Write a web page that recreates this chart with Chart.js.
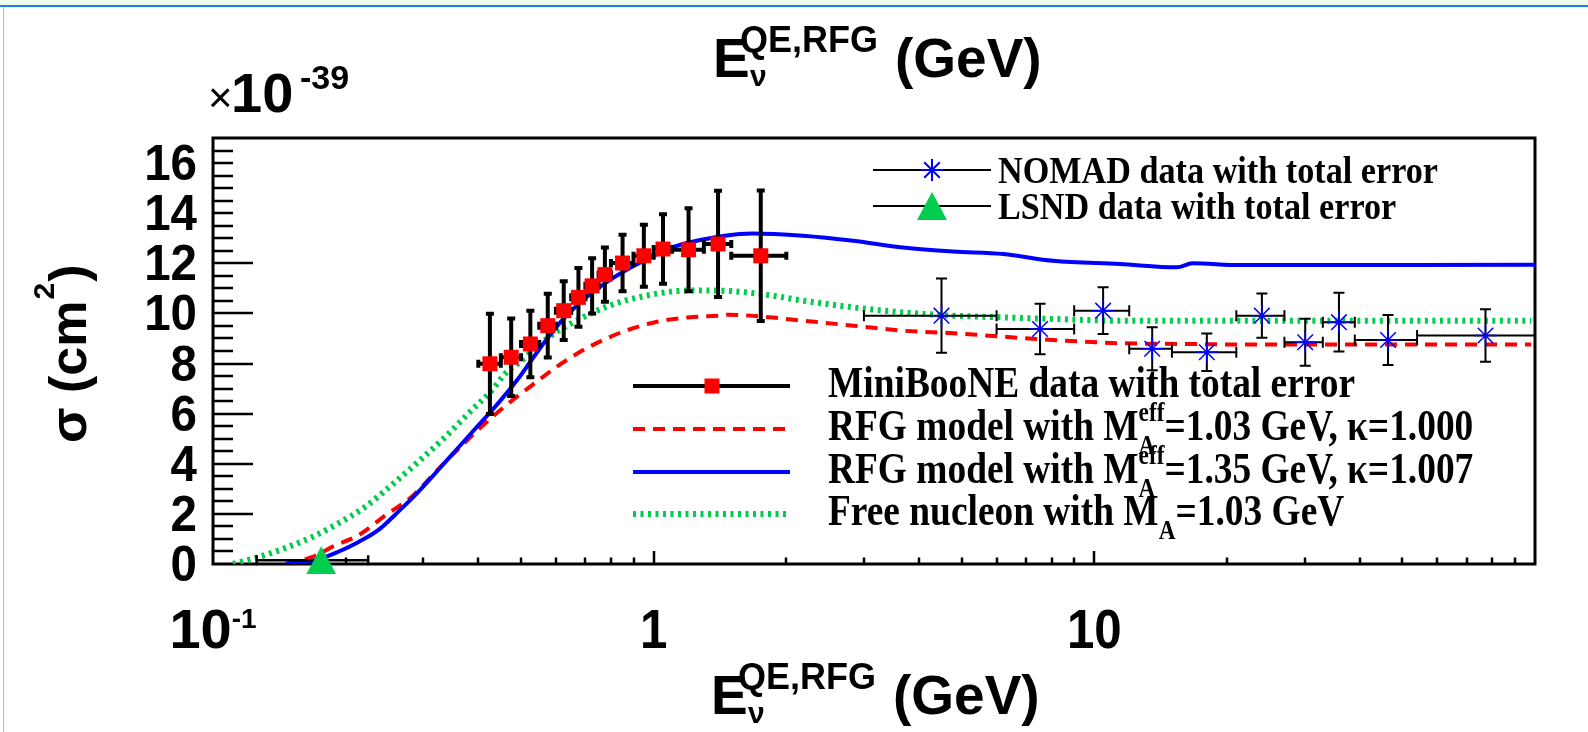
<!DOCTYPE html>
<html>
<head>
<meta charset="utf-8">
<script src="https://cdn.jsdelivr.net/npm/chart.js@4.4.1/dist/chart.umd.min.js"></script>
<style>
    html, body { margin: 0; padding: 0; background: #ffffff; }
    #wrap { position: relative; width: 1588px; height: 732px; overflow: hidden; background: #ffffff; }
    #band { position: absolute; left: 0; top: 0; width: 1588px; height: 5px; background: #f0fcf0; border-bottom: 2px solid #1e80e6; }
    #leftLine { position: absolute; left: 3px; top: 7px; width: 1px; height: 725px; background: #8cc4f2; }
    canvas { position: absolute; left: 0; top: 0; }
</style>
</head>
<body>
<div id="wrap">
    <canvas id="xsec" width="1588" height="732"></canvas>
    <div id="band"></div>
    <div id="leftLine"></div>
</div>
<script>
// ---- data (sigma in units of 1e-39 cm^2, energy in GeV) ----

// MiniBooNE
const mbE     = [0.425, 0.475, 0.525, 0.575, 0.625, 0.675, 0.725, 0.775, 0.85, 0.95, 1.05, 1.2, 1.4, 1.75];
const mbLo    = [0.40, 0.45, 0.50, 0.55, 0.60, 0.65, 0.70, 0.75, 0.80, 0.90, 1.00, 1.10, 1.30, 1.50];
const mbHi    = [0.45, 0.50, 0.55, 0.60, 0.65, 0.70, 0.75, 0.80, 0.90, 1.00, 1.10, 1.30, 1.50, 2.00];
const mbSigma = [7.99, 8.25, 8.78, 9.51, 10.11, 10.64, 11.10, 11.55, 12.01, 12.30, 12.57, 12.54, 12.77, 12.30];
const mbErr   = [2.00, 1.55, 1.33, 1.27, 1.17, 1.17, 1.10, 1.08, 1.13, 1.24, 1.39, 1.66, 2.12, 2.60];

// NOMAD
const nomadE     = [4.50, 7.53, 10.47, 13.53, 18.0, 24.0, 30.1, 35.9, 46.4, 77.2];
const nomadLo    = [3.0, 6.0, 9.0, 12.0, 15.0, 21.0, 27.0, 33.0, 39.0, 54.0];
const nomadHi    = [6.0, 9.0, 12.0, 15.0, 21.0, 27.0, 33.0, 39.0, 54.0, 100.0];
const nomadSigma = [9.91, 9.38, 10.11, 8.59, 8.45, 9.91, 8.85, 9.65, 8.94, 9.12];
const nomadErr   = [1.48, 1.01, 0.93, 0.86, 0.75, 0.88, 0.94, 1.17, 1.00, 1.05];

// LSND
const lsndE     = [0.176];
const lsndLo    = [0.1256];
const lsndHi    = [0.225];
const lsndSigma = [0.15];
const lsndErr   = [0.0];

// RFG model, M_A = 1.03 GeV, kappa = 1.000 (red dashed)
const rfg103E = [0.146, 0.159, 0.172, 0.186, 0.214, 0.246, 0.282, 0.325, 0.373, 0.429, 0.493, 0.547, 0.60, 0.65,
                 0.711, 0.846, 1.007, 1.198, 1.40, 1.48, 1.74, 2.18, 2.84, 3.68, 4.78, 6.21, 8.07, 11.43, 16.2, 21.4, 98.0];
const rfg103S = [0.0, 0.15, 0.35, 0.68, 1.15, 1.94, 2.67, 3.80, 4.85, 5.85, 6.72, 7.32, 7.85, 8.25,
                 8.65, 9.25, 9.65, 9.84, 9.91, 9.95, 9.88, 9.71, 9.51, 9.31, 9.21, 9.07, 8.94, 8.81, 8.78, 8.76, 8.76];

// RFG model, M_A = 1.35 GeV, kappa = 1.007 (blue solid)
const rfg135E = [0.146, 0.171, 0.192, 0.214, 0.237, 0.263, 0.292, 0.324, 0.36, 0.40, 0.444, 0.493, 0.524, 0.557,
                 0.618, 0.687, 0.775, 0.861, 0.95, 1.099, 1.45, 1.68, 2.18, 2.84, 3.68, 4.78, 6.21, 8.07, 11.43, 15.4, 16.7, 21.4, 100.0];
const rfg135S = [0.0, 0.15, 0.48, 0.88, 1.35, 2.08, 2.87, 3.74, 4.64, 5.53, 6.42, 7.40, 8.05, 8.70,
                 9.70, 10.50, 11.20, 11.70, 12.10, 12.63, 13.10, 13.19, 13.10, 12.90, 12.63, 12.47, 12.37, 12.10, 11.97, 11.84, 12.00, 11.93, 11.94];

// Free nucleon, M_A = 1.03 GeV (green dotted)
const freeE = [0.111, 0.127, 0.146, 0.168, 0.192, 0.221, 0.254, 0.292, 0.336, 0.386, 0.429, 0.46, 0.50, 0.55, 0.60, 0.65,
               0.775, 0.923, 1.198, 1.40, 1.74, 2.18, 2.84, 3.68, 4.78, 6.21, 8.07, 11.43, 21.4, 98.0];
const freeS = [0.0, 0.28, 0.64, 1.08, 1.61, 2.27, 3.14, 4.07, 5.06, 6.13, 6.92, 7.59, 8.10, 8.75, 9.25, 9.60,
               10.24, 10.64, 10.91, 10.91, 10.78, 10.51, 10.24, 10.04, 9.91, 9.84, 9.78, 9.71, 9.71, 9.71];

// axis ticks
const yLabelValues = [0, 2, 4, 6, 8, 10, 12, 14, 16];
const yLongTicks   = [2, 4, 6, 8, 10, 12];
const yMinorTicks  = [0.5, 1, 1.5, 2.5, 3, 3.5, 4.5, 5, 5.5, 6.5, 7, 7.5, 8.5, 9, 9.5, 10.5, 11, 11.5,
                      12.5, 13, 13.5, 14, 14.5, 15, 15.5, 16, 16.5];
const xMajorTicks  = [1, 10];
const xMinorTicks  = [0.2, 0.3, 0.4, 0.5, 0.6, 0.7, 0.8, 0.9, 2, 3, 4, 5, 6, 7, 8, 9, 20, 30, 40, 50, 60, 70, 80, 90];

const GREEN = '#00cc4e';
const SANS = '"Liberation Sans", Arial, Helvetica, sans-serif';
const SERIF = '"Liberation Serif", "Times New Roman", serif';

function pts(xs, ys) {
    return xs.map((v, i) => ({ x: v, y: ys[i] }));
}

// triangle marker (ROOT style: centred on its bounding box)
function makeTriangle(w, h, color) {
    const c = document.createElement('canvas');
    c.width = w; c.height = h;
    const g = c.getContext('2d');
    g.fillStyle = color;
    g.beginPath();
    g.moveTo(w / 2, 0);
    g.lineTo(w, h);
    g.lineTo(0, h);
    g.closePath();
    g.fill();
    return c;
}
const triMarker = makeTriangle(30, 28, GREEN);

const errorSets = {
    mb:    { xs: mbE, ys: mbSigma, lo: mbLo, hi: mbHi, err: mbErr, lw: 4, cap: 4 },
    nomad: { xs: nomadE, ys: nomadSigma, lo: nomadLo, hi: nomadHi, err: nomadErr, lw: 2, cap: 5.5 },
    lsnd:  { xs: lsndE, ys: lsndSigma, lo: lsndLo, hi: lsndHi, err: lsndErr, lw: 2.5, cap: 5 }
};

function drawErrors(chart, set) {
    const ctx = chart.ctx, xs = chart.scales.x, ys = chart.scales.y;
    ctx.save();
    ctx.strokeStyle = '#000';
    ctx.lineWidth = set.lw;
    ctx.beginPath();
    set.xs.forEach((e, i) => {
        const px = xs.getPixelForValue(e);
        const py = ys.getPixelForValue(set.ys[i]);
        const pl = xs.getPixelForValue(set.lo[i]);
        const ph = xs.getPixelForValue(set.hi[i]);
        ctx.moveTo(pl, py); ctx.lineTo(ph, py);
        ctx.moveTo(pl, py - set.cap); ctx.lineTo(pl, py + set.cap);
        ctx.moveTo(ph, py - set.cap); ctx.lineTo(ph, py + set.cap);
        if (set.err[i] > 0) {
            const pt = ys.getPixelForValue(set.ys[i] + set.err[i]);
            const pb = ys.getPixelForValue(set.ys[i] - set.err[i]);
            ctx.moveTo(px, pt); ctx.lineTo(px, pb);
            ctx.moveTo(px - set.cap, pt); ctx.lineTo(px + set.cap, pt);
            ctx.moveTo(px - set.cap, pb); ctx.lineTo(px + set.cap, pb);
        }
    });
    ctx.stroke();
    ctx.restore();
}

// E_nu^{QE,RFG} (GeV)
function drawEnergyTitle(ctx, x, base) {
    ctx.fillStyle = '#000';
    ctx.textAlign = 'left';
    ctx.textBaseline = 'alphabetic';
    ctx.font = 'bold 55px ' + SANS;
    ctx.fillText('E', x, base);
    ctx.font = 'bold 36px ' + SANS;
    ctx.fillText('QE,RFG', x + 27, base - 25);
    ctx.font = 'bold 30px ' + SANS;
    ctx.fillText('\u03bd', x + 37, base + 9);
    ctx.font = 'bold 55px ' + SANS;
    ctx.fillText('(GeV)', x + 182, base);
}

// text drawn narrower than the font (sx < 1)
function squeezed(ctx, text, x, y, sx, align) {
    ctx.save();
    ctx.translate(x, y);
    ctx.scale(sx, 1);
    ctx.textAlign = align;
    ctx.fillText(text, 0, 0);
    ctx.restore();
}

// text with optional sub/superscripts, compressed horizontally by sx
function richText(ctx, parts, x, y, size, sx) {
    ctx.save();
    ctx.translate(x, y);
    ctx.scale(sx, 1);
    ctx.fillStyle = '#000';
    ctx.textAlign = 'left';
    ctx.textBaseline = 'alphabetic';
    let cx = 0;
    parts.forEach(p => {
        if (typeof p === 'string') {
            ctx.font = 'bold ' + size + 'px ' + SERIF;
            ctx.fillText(p, cx, 0);
            cx += ctx.measureText(p).width;
        } else {
            ctx.font = 'bold ' + Math.round(size * 0.62) + 'px ' + SERIF;
            let w = 0;
            if (p.sup) {
                ctx.fillText(p.sup, cx, -size * 0.42);
                w = Math.max(w, ctx.measureText(p.sup).width);
            }
            if (p.sub) {
                ctx.fillText(p.sub, cx, size * 0.32);
                w = Math.max(w, ctx.measureText(p.sub).width);
            }
            cx += w;
        }
    });
    ctx.restore();
}

function measure(ctx, text, font) {
    ctx.font = font;
    return ctx.measureText(text).width;
}

const rootPlugin = {
    id: 'rootStyle',
    beforeDatasetsDraw(chart) {
        const ctx = chart.ctx, a = chart.chartArea;
        const xs = chart.scales.x, ys = chart.scales.y;
        ctx.save();
        ctx.strokeStyle = '#000';
        ctx.lineWidth = 2.5;
        ctx.beginPath();
        yMinorTicks.forEach(v => {
            const p = Math.round(ys.getPixelForValue(v));
            ctx.moveTo(a.left, p); ctx.lineTo(a.left + 20, p);
        });
        yLongTicks.forEach(v => {
            const p = Math.round(ys.getPixelForValue(v));
            ctx.moveTo(a.left, p); ctx.lineTo(a.left + 40, p);
        });
        xMinorTicks.forEach(v => {
            const p = Math.round(xs.getPixelForValue(v));
            ctx.moveTo(p, a.bottom); ctx.lineTo(p, a.bottom - 6.5);
        });
        xMajorTicks.forEach(v => {
            const p = Math.round(xs.getPixelForValue(v));
            ctx.moveTo(p, a.bottom); ctx.lineTo(p, a.bottom - 13);
        });
        ctx.stroke();
        ctx.lineWidth = 3;
        ctx.strokeRect(a.left, a.top, a.right - a.left, a.bottom - a.top);

        // y tick labels
        ctx.fillStyle = '#000';
        ctx.textBaseline = 'alphabetic';
        ctx.font = 'bold 50px ' + SANS;
        yLabelValues.forEach(v => {
            squeezed(ctx, String(v), 197, ys.getPixelForValue(v) + 17, 0.95, 'right');
        });

        // x tick labels
        ctx.font = 'bold 56px ' + SANS;
        xMajorTicks.forEach(v => {
            squeezed(ctx, String(v), xs.getPixelForValue(v), 648, 0.88, 'center');
        });
        const p01 = xs.getPixelForValue(0.1);
        const w10 = ctx.measureText('10').width;
        ctx.font = 'bold 28px ' + SANS;
        const wm1 = ctx.measureText('-1').width;
        const sx0 = p01 - (w10 + wm1) / 2;
        ctx.font = 'bold 56px ' + SANS;
        squeezed(ctx, '10', sx0, 648, 1.0, 'left');
        ctx.font = 'bold 28px ' + SANS;
        ctx.textAlign = 'left';
        ctx.fillText('-1', sx0 + w10, 628);

        // exponent label
        ctx.font = '42px ' + SANS;
        ctx.fillText('\u00d7', 208, 112);
        ctx.font = 'bold 56px ' + SANS;
        ctx.fillText('10', 231, 112);
        ctx.font = 'bold 34px ' + SANS;
        ctx.fillText('-39', 300, 89);

        // axis titles
        drawEnergyTitle(ctx, 713, 77);
        drawEnergyTitle(ctx, 711, 714);

        ctx.translate(86, 443);
        ctx.rotate(-Math.PI / 2);
        ctx.textAlign = 'left';
        ctx.font = 'bold 52px ' + SANS;
        let cx = 0;
        ctx.fillText('\u03c3 (cm', cx, 0);
        cx += ctx.measureText('\u03c3 (cm').width;
        ctx.font = 'bold 30px ' + SANS;
        ctx.fillText('2', cx + 1, -32);
        cx += ctx.measureText('2').width + 2;
        ctx.font = 'bold 52px ' + SANS;
        ctx.fillText(')', cx, 0);
        ctx.restore();
    },
    beforeDatasetDraw(chart, args) {
        const key = chart.data.datasets[args.index].errKey;
        if (key) drawErrors(chart, errorSets[key]);
    },
    afterDatasetsDraw(chart) {
        const ctx = chart.ctx;
        const H = Chart.helpers;
        ctx.save();

        // upper legend
        ctx.strokeStyle = '#000';
        ctx.lineWidth = 2;
        ctx.beginPath();
        ctx.moveTo(873, 170); ctx.lineTo(991, 170);
        ctx.moveTo(873, 206); ctx.lineTo(991, 206);
        ctx.stroke();
        ctx.strokeStyle = '#0000ff';
        H.drawPoint(ctx, { pointStyle: 'star', radius: 11, borderWidth: 1.5, rotation: 0 }, 932, 170);
        ctx.drawImage(triMarker, 932 - 15, 206 - 14);

        const s1 = 37, s2 = 45;
        const sx1 = 440 / measure(ctx, 'NOMAD data with total error', 'bold ' + s1 + 'px ' + SERIF);
        const sx2 = 527 / measure(ctx, 'MiniBooNE data with total error', 'bold ' + s2 + 'px ' + SERIF);
        richText(ctx, ['NOMAD data with total error'], 998, 183, s1, sx1);
        richText(ctx, ['LSND data with total error'], 998, 219, s1, sx1);

        // lower legend
        const rows = [386, 429, 472, 514];
        ctx.strokeStyle = '#000';
        ctx.lineWidth = 4;
        ctx.beginPath(); ctx.moveTo(633, rows[0]); ctx.lineTo(790, rows[0]); ctx.stroke();
        ctx.fillStyle = '#ff0000';
        ctx.fillRect(712 - 7.5, rows[0] - 7.5, 15, 15);

        ctx.strokeStyle = '#ff0000';
        ctx.setLineDash([12, 8]);
        ctx.beginPath(); ctx.moveTo(633, rows[1]); ctx.lineTo(790, rows[1]); ctx.stroke();
        ctx.setLineDash([]);
        ctx.strokeStyle = '#0000ff';
        ctx.beginPath(); ctx.moveTo(633, rows[2]); ctx.lineTo(790, rows[2]); ctx.stroke();
        ctx.strokeStyle = GREEN;
        ctx.lineWidth = 6;
        ctx.setLineDash([3, 4.5]);
        ctx.beginPath(); ctx.moveTo(633, rows[3]); ctx.lineTo(788, rows[3]); ctx.stroke();
        ctx.setLineDash([]);

        richText(ctx, ['MiniBooNE data with total error'], 828, rows[0] + 11, s2, sx2);
        richText(ctx, ['RFG model with M', { sup: 'eff', sub: 'A' }, '=1.03 GeV, \u03ba=1.000'], 828, rows[1] + 11, s2, sx2);
        richText(ctx, ['RFG model with M', { sup: 'eff', sub: 'A' }, '=1.35 GeV, \u03ba=1.007'], 828, rows[2] + 11, s2, sx2);
        richText(ctx, ['Free nucleon with M', { sub: 'A' }, '=1.03 GeV'], 828, rows[3] + 11, s2, sx2);
        ctx.restore();
    }
};

const lineBase = { showLine: true, pointRadius: 0, borderWidth: 4, cubicInterpolationMode: 'monotone', fill: false };

new Chart(document.getElementById('xsec').getContext('2d'), {
    type: 'scatter',
    data: {
        datasets: [
            {
                label: 'LSND data with total error',
                data: pts(lsndE, lsndSigma),
                errKey: 'lsnd',
                pointStyle: triMarker,
                clip: false
            },
            {
                label: 'NOMAD data with total error',
                data: pts(nomadE, nomadSigma),
                errKey: 'nomad',
                pointStyle: 'star',
                pointRadius: 11,
                pointBorderColor: '#0000ff',
                pointBorderWidth: 1.5
            },
            {
                label: 'MiniBooNE data with total error',
                data: pts(mbE, mbSigma),
                errKey: 'mb',
                pointStyle: 'rect',
                pointRadius: 10.6,
                pointBackgroundColor: '#ff0000',
                pointBorderColor: '#ff0000',
                pointBorderWidth: 0
            },
            Object.assign({
                label: 'RFG model with MA eff = 1.35 GeV, kappa = 1.007',
                data: pts(rfg135E, rfg135S),
                borderColor: '#0000ff'
            }, lineBase),
            Object.assign({
                label: 'RFG model with MA eff = 1.03 GeV, kappa = 1.000',
                data: pts(rfg103E, rfg103S),
                borderColor: '#ff0000',
                borderDash: [12, 8]
            }, lineBase),
            Object.assign({
                label: 'Free nucleon with MA = 1.03 GeV',
                data: pts(freeE, freeS),
                borderColor: GREEN,
                borderDash: [3, 4.5]
            }, lineBase, { borderWidth: 6 })
        ]
    },
    options: {
        responsive: false,
        devicePixelRatio: 1,
        animation: false,
        events: [],
        layout: { padding: { left: 213, top: 138, right: 53, bottom: 168 } },
        plugins: {
            legend: { display: false },
            tooltip: { enabled: false },
            title: { display: false }
        },
        scales: {
            x: { type: 'logarithmic', min: 0.1, max: 100, display: false },
            y: { type: 'linear', min: 0, max: 17, display: false }
        }
    },
    plugins: [rootPlugin]
});
</script>
</body>
</html>
